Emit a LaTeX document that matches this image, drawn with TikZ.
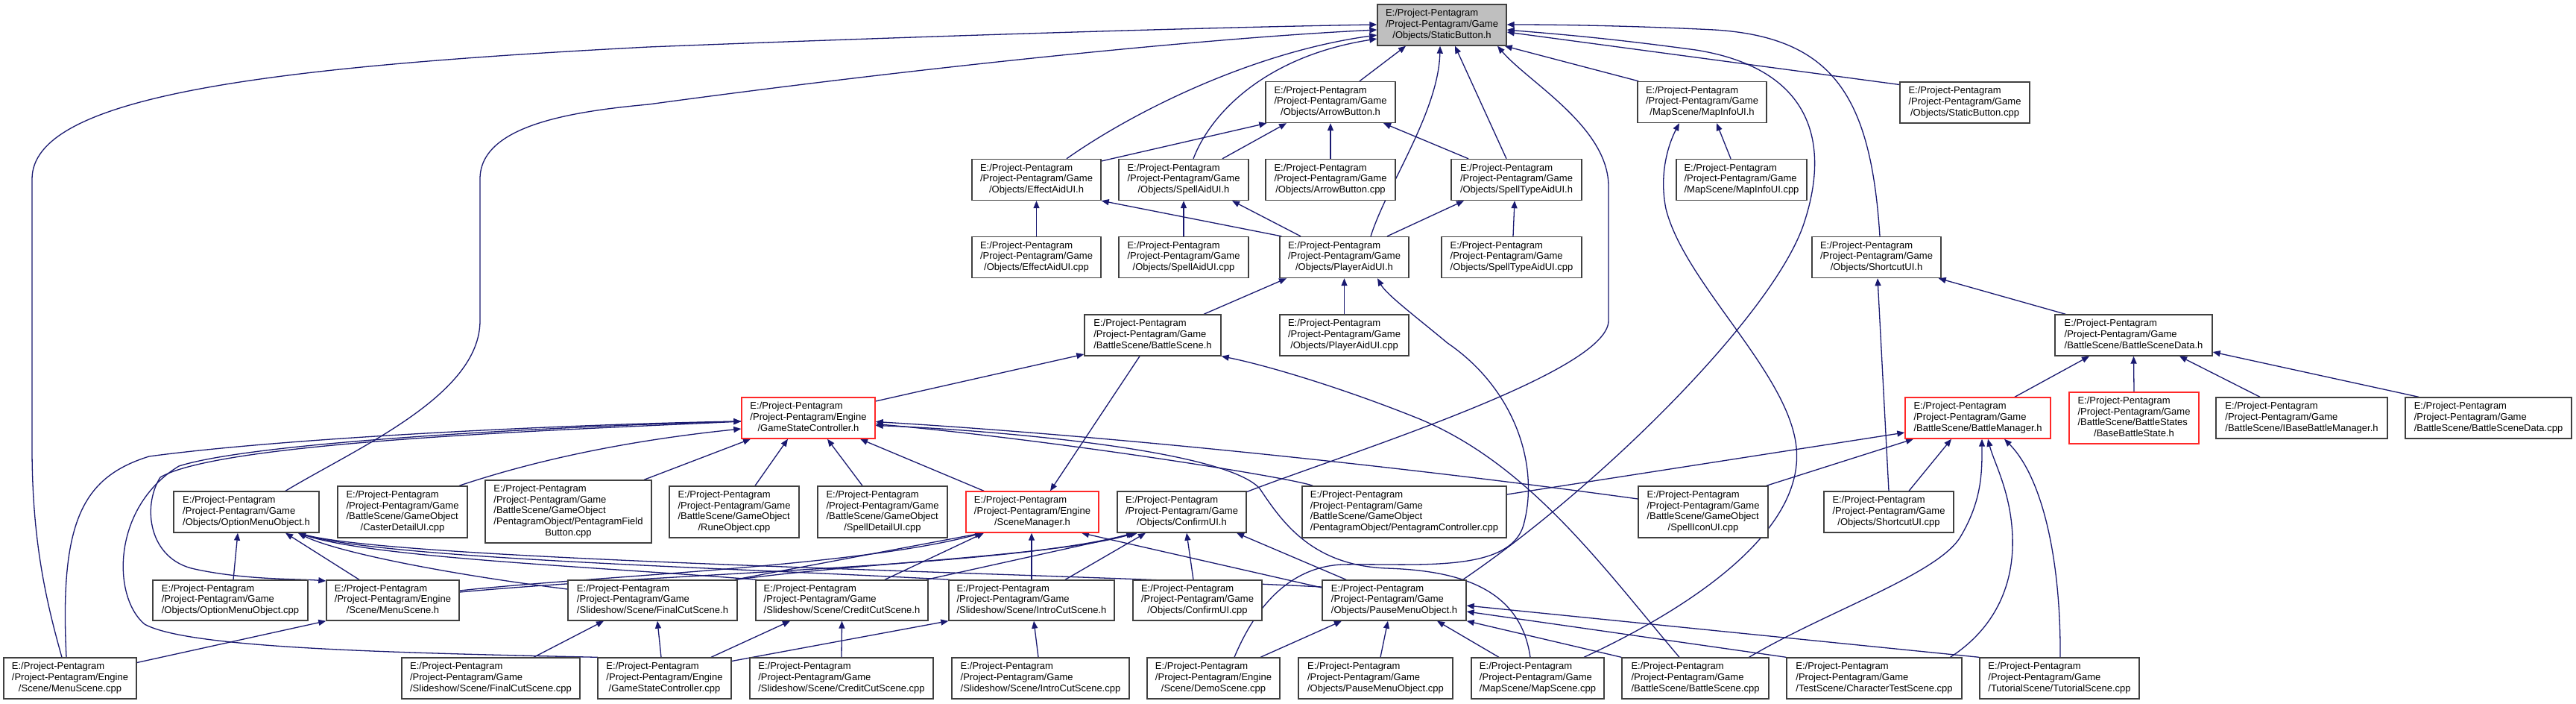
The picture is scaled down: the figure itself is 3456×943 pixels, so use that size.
\documentclass[tikz,border=0pt]{standalone}
\usepackage{fontspec}
\setmainfont{Liberation Sans}
\usetikzlibrary{arrows.meta}
\definecolor{mblue}{RGB}{25,25,112}
\definecolor{nborder}{RGB}{64,64,64}
\definecolor{nred}{RGB}{255,40,40}
\definecolor{rootfill}{RGB}{191,191,191}
\newcommand{\ePP}{E:/Project-Pentagram}
\newcommand{\pGame}{/Project-Pentagram/Game}
\newcommand{\pEng}{/Project-Pentagram/Engine}
\newcommand{\lthree}[3]{\begin{tabular}{@{}l@{}}#1\\#2\\\multicolumn{1}{@{}c@{}}{#3}\end{tabular}}
\newcommand{\lfour}[4]{\begin{tabular}{@{}l@{}}#1\\#2\\#3\\\multicolumn{1}{@{}c@{}}{#4}\end{tabular}}
\newcommand{\lfive}[5]{\begin{tabular}{@{}l@{}}#1\\#2\\#3\\#4\\\multicolumn{1}{@{}c@{}}{#5}\end{tabular}}
\pgfdeclarelayer{bg}
\pgfdeclarelayer{edges}
\pgfsetlayers{bg,edges,main}
\tikzset{
  nb/.style={draw=nborder, line width=1.4pt, fill=white, inner sep=0pt,
    font=\fontsize{13pt}{14.7pt}\selectfont, minimum height=55pt},
  nr/.style={nb, draw=nred},
  ed/.style={draw=mblue, line width=1.3pt, -{Triangle[length=10pt,width=8pt]}}
}
\begin{document}
\begin{tikzpicture}[x=1pt,y=-1pt]
\begin{pgfonlayer}{bg}
\fill[white] (0,0) rectangle (3456,943);
\end{pgfonlayer}
\useasboundingbox (0,0) rectangle (3456,943);
% row 1-2
\node[nb, fill=rootfill, minimum width=173pt] (SB) at (1934.5,33.5) {\lthree{\ePP}{\pGame}{/Objects/StaticButton.h}};
\node[nb, minimum width=174pt] (ABh) at (1785,137) {\lthree{\ePP}{\pGame}{/Objects/ArrowButton.h}};
\node[nb, minimum width=173pt] (MIh) at (2283.5,137) {\lthree{\ePP}{\pGame}{/MapScene/MapInfoUI.h}};
\node[nb, minimum width=174pt] (SBc) at (2636,137.5) {\lthree{\ePP}{\pGame}{/Objects/StaticButton.cpp}};
% row 3
\node[nb, minimum width=173pt] (EAh) at (1390.5,241) {\lthree{\ePP}{\pGame}{/Objects/EffectAidUI.h}};
\node[nb, minimum width=174pt] (SAh) at (1588,241) {\lthree{\ePP}{\pGame}{/Objects/SpellAidUI.h}};
\node[nb, minimum width=174pt] (ABc) at (1785,241) {\lthree{\ePP}{\pGame}{/Objects/ArrowButton.cpp}};
\node[nb, minimum width=175pt] (STh) at (2034.5,241) {\lthree{\ePP}{\pGame}{/Objects/SpellTypeAidUI.h}};
\node[nb, minimum width=175pt] (MIc) at (2336.5,241) {\lthree{\ePP}{\pGame}{/MapScene/MapInfoUI.cpp}};
% row 4
\node[nb, minimum width=173pt] (EAc) at (1390.5,345) {\lthree{\ePP}{\pGame}{/Objects/EffectAidUI.cpp}};
\node[nb, minimum width=174pt] (SAc) at (1588,345) {\lthree{\ePP}{\pGame}{/Objects/SpellAidUI.cpp}};
\node[nb, minimum width=173pt] (PAh) at (1803.5,345) {\lthree{\ePP}{\pGame}{/Objects/PlayerAidUI.h}};
\node[nb, minimum width=188pt] (STc) at (2028,345) {\lthree{\ePP}{\pGame}{/Objects/SpellTypeAidUI.cpp}};
\node[nb, minimum width=173pt] (SUh) at (2517.5,345) {\lthree{\ePP}{\pGame}{/Objects/ShortcutUI.h}};
% row 5
\node[nb, minimum width=183pt] (BSh) at (1546.5,449.5) {\lthree{\ePP}{\pGame}{/BattleScene/BattleScene.h}};
\node[nb, minimum width=173pt] (PAc) at (1803.5,449.5) {\lthree{\ePP}{\pGame}{/Objects/PlayerAidUI.cpp}};
\node[nb, minimum width=211pt] (BSDh) at (2862.5,449.5) {\lthree{\ePP}{\pGame}{/BattleScene/BattleSceneData.h}};
% row 6
\node[nr, minimum width=179pt] (GSCh) at (1084.5,560.5) {\lthree{\ePP}{\pEng}{/GameStateController.h}};
\node[nr, minimum width=195pt] (BMh) at (2653.5,560.5) {\lthree{\ePP}{\pGame}{/BattleScene/BattleManager.h}};
\node[nr, minimum width=174pt, minimum height=69pt] (BBSh) at (2863,560.5) {\lfour{\ePP}{\pGame}{/BattleScene/BattleStates}{/BaseBattleState.h}};
\node[nb, minimum width=230pt] (IBMh) at (3088,560.5) {\lthree{\ePP}{\pGame}{/BattleScene/IBaseBattleManager.h}};
\node[nb, minimum width=223pt] (BSDc) at (3338.5,560.5) {\lthree{\ePP}{\pGame}{/BattleScene/BattleSceneData.cpp}};
% row 7
\node[nb, minimum width=195pt] (OMh) at (330.5,686.5) {\lthree{\ePP}{\pGame}{/Objects/OptionMenuObject.h}};
\node[nb, minimum width=174pt, minimum height=69pt] (CDc) at (540,686.5) {\lfour{\ePP}{\pGame}{/BattleScene/GameObject}{/CasterDetailUI.cpp}};
\node[nb, minimum width=223pt, minimum height=84pt] (PFBc) at (762.5,686) {\lfive{\ePP}{\pGame}{/BattleScene/GameObject}{/PentagramObject/PentagramField}{Button.cpp}};
\node[nb, minimum width=174pt, minimum height=69pt] (ROc) at (985,686.5) {\lfour{\ePP}{\pGame}{/BattleScene/GameObject}{/RuneObject.cpp}};
\node[nb, minimum width=174pt, minimum height=69pt] (SDc) at (1184,686.5) {\lfour{\ePP}{\pGame}{/BattleScene/GameObject}{/SpellDetailUI.cpp}};
\node[nr, minimum width=178pt] (SMh) at (1385,686.5) {\lthree{\ePP}{\pEng}{/SceneManager.h}};
\node[nb, minimum width=173pt] (CUh) at (1585.5,686.5) {\lthree{\ePP}{\pGame}{/Objects/ConfirmUI.h}};
\node[nb, minimum width=274pt, minimum height=69pt] (PCc) at (1884,686.5) {\lfour{\ePP}{\pGame}{/BattleScene/GameObject}{/PentagramObject/PentagramController.cpp}};
\node[nb, minimum width=174pt, minimum height=69pt] (SIc) at (2285,686.5) {\lfour{\ePP}{\pGame}{/BattleScene/GameObject}{/SpellIconUI.cpp}};
\node[nb, minimum width=174pt] (SUc) at (2534,686.5) {\lthree{\ePP}{\pGame}{/Objects/ShortcutUI.cpp}};
% row 8
\node[nb, minimum width=208pt, minimum height=54pt] (OMc) at (309,805) {\lthree{\ePP}{\pGame}{/Objects/OptionMenuObject.cpp}};
\node[nb, minimum width=178pt, minimum height=54pt] (MSh) at (527,805) {\lthree{\ePP}{\pEng}{/Scene/MenuScene.h}};
\node[nb, minimum width=227pt, minimum height=54pt] (FCh) at (875.5,805) {\lthree{\ePP}{\pGame}{/Slideshow/Scene/FinalCutScene.h}};
\node[nb, minimum width=231pt, minimum height=54pt] (CCh) at (1129.5,805) {\lthree{\ePP}{\pGame}{/Slideshow/Scene/CreditCutScene.h}};
\node[nb, minimum width=222pt, minimum height=54pt] (ICh) at (1384,805) {\lthree{\ePP}{\pGame}{/Slideshow/Scene/IntroCutScene.h}};
\node[nb, minimum width=173pt, minimum height=54pt] (CUc) at (1606.5,805) {\lthree{\ePP}{\pGame}{/Objects/ConfirmUI.cpp}};
\node[nb, minimum width=193pt, minimum height=54pt] (PMh) at (1870.5,805) {\lthree{\ePP}{\pGame}{/Objects/PauseMenuObject.h}};
% row 9
\node[nb, minimum width=178pt] (MSc) at (94,909.5) {\lthree{\ePP}{\pEng}{/Scene/MenuScene.cpp}};
\node[nb, minimum width=239pt] (FCc) at (658.5,909.5) {\lthree{\ePP}{\pGame}{/Slideshow/Scene/FinalCutScene.cpp}};
\node[nb, minimum width=179pt] (GSCc) at (891.5,909.5) {\lthree{\ePP}{\pEng}{/GameStateController.cpp}};
\node[nb, minimum width=246pt] (CCc) at (1129,909.5) {\lthree{\ePP}{\pGame}{/Slideshow/Scene/CreditCutScene.cpp}};
\node[nb, minimum width=238pt] (ICc) at (1396,909.5) {\lthree{\ePP}{\pGame}{/Slideshow/Scene/IntroCutScene.cpp}};
\node[nb, minimum width=178pt] (DSc) at (1628,909.5) {\lthree{\ePP}{\pEng}{/Scene/DemoScene.cpp}};
\node[nb, minimum width=207pt] (PMc) at (1845.5,909.5) {\lthree{\ePP}{\pGame}{/Objects/PauseMenuObject.cpp}};
\node[nb, minimum width=178pt] (MSp) at (2063,909.5) {\lthree{\ePP}{\pGame}{/MapScene/MapScene.cpp}};
\node[nb, minimum width=197pt] (BSc) at (2274.5,909.5) {\lthree{\ePP}{\pGame}{/BattleScene/BattleScene.cpp}};
\node[nb, minimum width=235pt] (CTc) at (2514.5,909.5) {\lthree{\ePP}{\pGame}{/TestScene/CharacterTestScene.cpp}};
\node[nb, minimum width=214pt] (TSc) at (2763,909.5) {\lthree{\ePP}{\pGame}{/TutorialScene/TutorialScene.cpp}};

\begin{pgfonlayer}{edges}
% into StaticButton.h
\draw[ed] ([xshift=-11pt]MSc.north) .. controls (60,800) and (43,720) .. (43,600) -- (43,240) .. controls (43,130) and (350,90) .. (870,63) .. controls (1200,50) and (1600,37) .. ([yshift=0.5pt]SB.west);
\draw[ed] ([xshift=52.5pt]OMh.north) .. controls (480,600) and (644,530) .. (644,430) -- (644,240) .. controls (644,170) and (760,150) .. (870,140) .. controls (1200,95) and (1600,52) .. ([yshift=-6.5pt]SB.west);
\draw[ed] ([xshift=40.5pt]EAh.north) .. controls (1520,150) and (1680,70) .. ([yshift=-13.5pt]SB.west);
\draw[ed] ([xshift=13pt]SAh.north) .. controls (1625,150) and (1700,75) .. ([yshift=-18.5pt]SB.west);
\draw[ed] ([xshift=39pt]ABh.north) -- ([xshift=-48.5pt]SB.south);
\draw[ed] ([xshift=35.5pt]PAh.north) .. controls (1860,250) and (1930,150) .. ([xshift=-2.5pt]SB.south);
\draw[ed] ([xshift=-13.5pt]STh.north) -- ([xshift=17.5pt]SB.south);
\draw[ed] ([yshift=27pt]CUh.east) .. controls (1800,610) and (2158,500) .. (2158,430) -- (2158,250) .. controls (2158,170) and (2050,110) .. ([xshift=74.5pt]SB.south);
\draw[ed] ([xshift=2pt]MIh.north west) -- ([xshift=-3pt]SB.south east);
\draw[ed] ([yshift=24pt]SBc.west) -- ([yshift=-9.5pt]SB.east);
\draw[ed] ([xshift=4.5pt]SUh.north) .. controls (2510,130) and (2460,50) .. (2300,40) .. controls (2200,35) and (2100,33) .. ([yshift=0.5pt]SB.east);
\draw[ed] ([xshift=92pt]PMh.north) .. controls (2150,650) and (2380,420) .. (2420,300) .. controls (2460,180) and (2420,90) .. (2275,67) .. controls (2150,50) and (2080,45) .. ([yshift=-6.5pt]SB.east);
% into ArrowButton.h
\draw[ed] ([yshift=25pt]EAh.east) -- ([xshift=2pt]ABh.south west);
\draw[ed] ([xshift=52pt]SAh.north) -- ([xshift=-59pt]ABh.south);
\draw[ed] (ABc.north) -- (ABh.south);
\draw[ed] ([xshift=-64.5pt]STh.north) -- ([xshift=71pt]ABh.south);
% simple pairs
\draw[ed] (EAc.north) -- (EAh.south);
\draw[ed] (SAc.north) -- (SAh.south);
\draw[ed] ([xshift=2pt]STc.north) -- ([xshift=-2.5pt]STh.south);
\draw[ed] ([xshift=-14.5pt]MIc.north) -- ([xshift=19.5pt]MIh.south);
\draw[ed] ([xshift=62pt]MSp.north) .. controls (2300,800) and (2420,700) .. (2410,600) .. controls (2400,500) and (2260,380) .. (2235,280) .. controls (2225,230) and (2240,190) .. ([xshift=-30.5pt]MIh.south);
% into PlayerAidUI.h targets
\draw[ed] ([xshift=3pt]PAh.north west) -- (EAh.south east);
\draw[ed] ([xshift=-58.5pt]PAh.north) -- ([xshift=65pt]SAh.south);
\draw[ed] ([xshift=57.5pt]PAh.north) -- ([xshift=-70.5pt]STh.south);
\draw[ed] (PAc.north) -- (PAh.south);
\draw[ed] ([xshift=68.5pt]BSh.north) -- ([xshift=-77.5pt]PAh.south);
\draw[ed] ([xshift=28pt]DSc.north) .. controls (1690,800) and (1740,760) .. (1800,757) .. controls (1900,755) and (2030,770) .. (2045,700) .. controls (2065,620) and (2030,520) .. (1942,460) .. controls (1900,425) and (1860,395) .. ([xshift=44.5pt]PAh.south);
% BattleScene.h
\draw[ed] ([xshift=-21.5pt]BSc.north) .. controls (2150,760) and (2050,620) .. (1900,560) .. controls (1800,520) and (1700,490) .. (BSh.south east);
\draw[ed] ([xshift=-17.5pt]BSh.south) -- ([xshift=24pt]SMh.north);
\draw[ed] ([yshift=22.5pt]GSCh.east) -- ([yshift=-25.5pt]BSh.west);
% into GameStateController.h
\draw[ed] ([xshift=-5pt]MSc.north) .. controls (80,700) and (110,640) .. (200,612) .. controls (400,585) and (800,568) .. ([yshift=-4.5pt]GSCh.west);
\draw[ed] ([xshift=-89.5pt]GSCc.north) .. controls (500,875) and (250,868) .. (194,837) .. controls (150,800) and (150,680) .. (240,625) .. controls (350,590) and (800,570) .. ([yshift=-4.5pt]GSCh.west);
\draw[ed] ([yshift=-4.5pt]GSCh.west) .. controls (800,575) and (300,590) .. (215,640) .. controls (190,680) and (200,750) .. (261,763) .. controls (330,778) and (400,776) .. ([yshift=26pt]MSh.west);
\draw[ed] ([xshift=76pt]CDc.north) .. controls (680,630) and (800,595) .. ([yshift=-14.5pt]GSCh.west);
\draw[ed] ([xshift=101.5pt]PFBc.north) -- ([xshift=-77.5pt]GSCh.south);
\draw[ed] ([xshift=28pt]ROc.north) -- ([xshift=-27.5pt]GSCh.south);
\draw[ed] ([xshift=-27pt]SDc.north) -- ([xshift=25.5pt]GSCh.south);
\draw[ed] ([xshift=-65pt]SMh.north) -- ([xshift=69.5pt]GSCh.south);
\draw[ed] ([yshift=17.5pt]SIc.west) .. controls (1900,628) and (1500,585) .. ([yshift=-5pt]GSCh.east);
\draw[ed] ([xshift=15pt]PCc.north west) .. controls (1730,640) and (1415,590) .. ([yshift=-8pt]GSCh.east);
\draw[ed] ([xshift=-10pt]MSp.north) .. controls (2040,790) and (1960,765) .. (1860,762) .. controls (1760,758) and (1720,700) .. (1690,655) .. controls (1640,600) and (1300,575) .. ([yshift=-10pt]GSCh.east);
% into BattleManager.h
\draw[ed] ([yshift=23.5pt]PCc.east) -- ([yshift=-19.5pt]BMh.west);
\draw[ed] ([xshift=-3pt]SIc.north east) -- ([xshift=-86.5pt]BMh.south);
\draw[ed] ([xshift=27pt]SUc.north) -- ([xshift=-35.5pt]BMh.south);
\draw[ed] (SUc.north) -- ([xshift=1.5pt]SUh.south);
\draw[ed] ([xshift=72pt]BSc.north) .. controls (2450,820) and (2600,770) .. (2630,720) .. controls (2660,670) and (2659,630) .. ([xshift=5.5pt]BMh.south);
\draw[ed] ([xshift=102pt]CTc.north) .. controls (2680,840) and (2702,780) .. (2700,720) .. controls (2698,660) and (2675,620) .. ([xshift=13.5pt]BMh.south);
\draw[ed] ([xshift=1pt]TSc.north) .. controls (2765,750) and (2740,640) .. ([xshift=35.5pt]BMh.south);
% into BattleSceneData.h
\draw[ed] ([xshift=49.5pt]BMh.north) -- ([xshift=-59.5pt]BSDh.south);
\draw[ed] (BBSh.north) -- (BSDh.south);
\draw[ed] ([xshift=-56pt]IBMh.north) -- ([xshift=61.5pt]BSDh.south);
\draw[ed] ([xshift=-93.5pt]BSDc.north) -- ([yshift=-22.5pt]BSDh.east);
\draw[ed] ([xshift=15pt]BSDh.north west) -- ([xshift=-4pt]SUh.south east);
% into OptionMenuObject.h
\draw[ed] ([xshift=4pt]OMc.north) -- ([xshift=-11.5pt]OMh.south);
\draw[ed] ([xshift=-45pt]MSh.north) -- ([xshift=52.5pt]OMh.south);
\draw[ed] ([yshift=15pt]FCh.west) .. controls (600,770) and (450,740) .. ([xshift=69.5pt]OMh.south);
\draw[ed] ([xshift=2pt]CCh.north west) .. controls (800,760) and (500,748) .. ([xshift=69.5pt]OMh.south);
\draw[ed] ([xshift=2pt]ICh.north west) .. controls (1000,762) and (520,750) .. ([xshift=69.5pt]OMh.south);
\draw[ed] ([yshift=18pt]PMh.west) .. controls (1400,768) and (540,752) .. ([xshift=69.5pt]OMh.south);
% into SceneManager.h / ConfirmUI.h
\draw[ed] ([yshift=13pt]MSh.east) .. controls (800,772) and (1150,760) .. ([xshift=-67pt]SMh.south);
\draw[ed] ([yshift=11pt]MSh.east) .. controls (900,768) and (1350,760) .. ([xshift=-64.5pt]CUh.south);
\draw[ed] ([xshift=-4pt]FCh.north east) -- ([xshift=-67pt]SMh.south);
\draw[ed] ([xshift=-2pt]FCh.north east) .. controls (1150,755) and (1420,745) .. ([xshift=-62.5pt]CUh.south);
\draw[ed] ([xshift=57.5pt]CCh.north) -- ([xshift=-65pt]SMh.south);
\draw[ed] ([xshift=-3pt]CCh.north east) -- ([xshift=-59.5pt]CUh.south);
\draw[ed] (ICh.north) -- ([xshift=-1pt]SMh.south);
\draw[ed] ([xshift=45pt]ICh.north) -- ([xshift=-48.5pt]CUh.south);
\draw[ed] ([xshift=-5.5pt]CUc.north) -- ([xshift=6.5pt]CUh.south);
\draw[ed] ([xshift=-64.5pt]PMh.north) -- ([xshift=73.5pt]CUh.south);
\draw[ed] ([yshift=17pt]PMh.west) -- ([xshift=66pt]SMh.south);
% row 9 to row 8
\draw[ed] ([yshift=21pt]MSc.east) -- (MSh.south west);
\draw[ed] ([xshift=57.5pt]FCc.north) -- ([xshift=-65.5pt]FCh.south);
\draw[ed] ([xshift=-4.5pt]GSCc.north) -- ([xshift=6.5pt]FCh.south);
\draw[ed] ([xshift=62.5pt]GSCc.north) -- ([xshift=-69.5pt]CCh.south);
\draw[ed] ([yshift=23pt]GSCc.east) -- (ICh.south west);
\draw[ed] (CCc.north) -- (CCh.south);
\draw[ed] ([xshift=-3pt]ICc.north) -- ([xshift=3pt]ICh.south);
\draw[ed] ([xshift=63pt]DSc.north) -- ([xshift=-70.5pt]PMh.south);
\draw[ed] ([xshift=6.5pt]PMc.north) -- ([xshift=-8.5pt]PMh.south);
\draw[ed] ([xshift=-52pt]MSp.north) -- ([xshift=57.5pt]PMh.south);
\draw[ed] (BSc.north west) -- (PMh.south east);
\draw[ed] (CTc.north west) -- ([yshift=-15pt]PMh.east);
\draw[ed] (TSc.north west) -- ([yshift=-7pt]PMh.east);
\end{pgfonlayer}
\end{tikzpicture}
\end{document}
